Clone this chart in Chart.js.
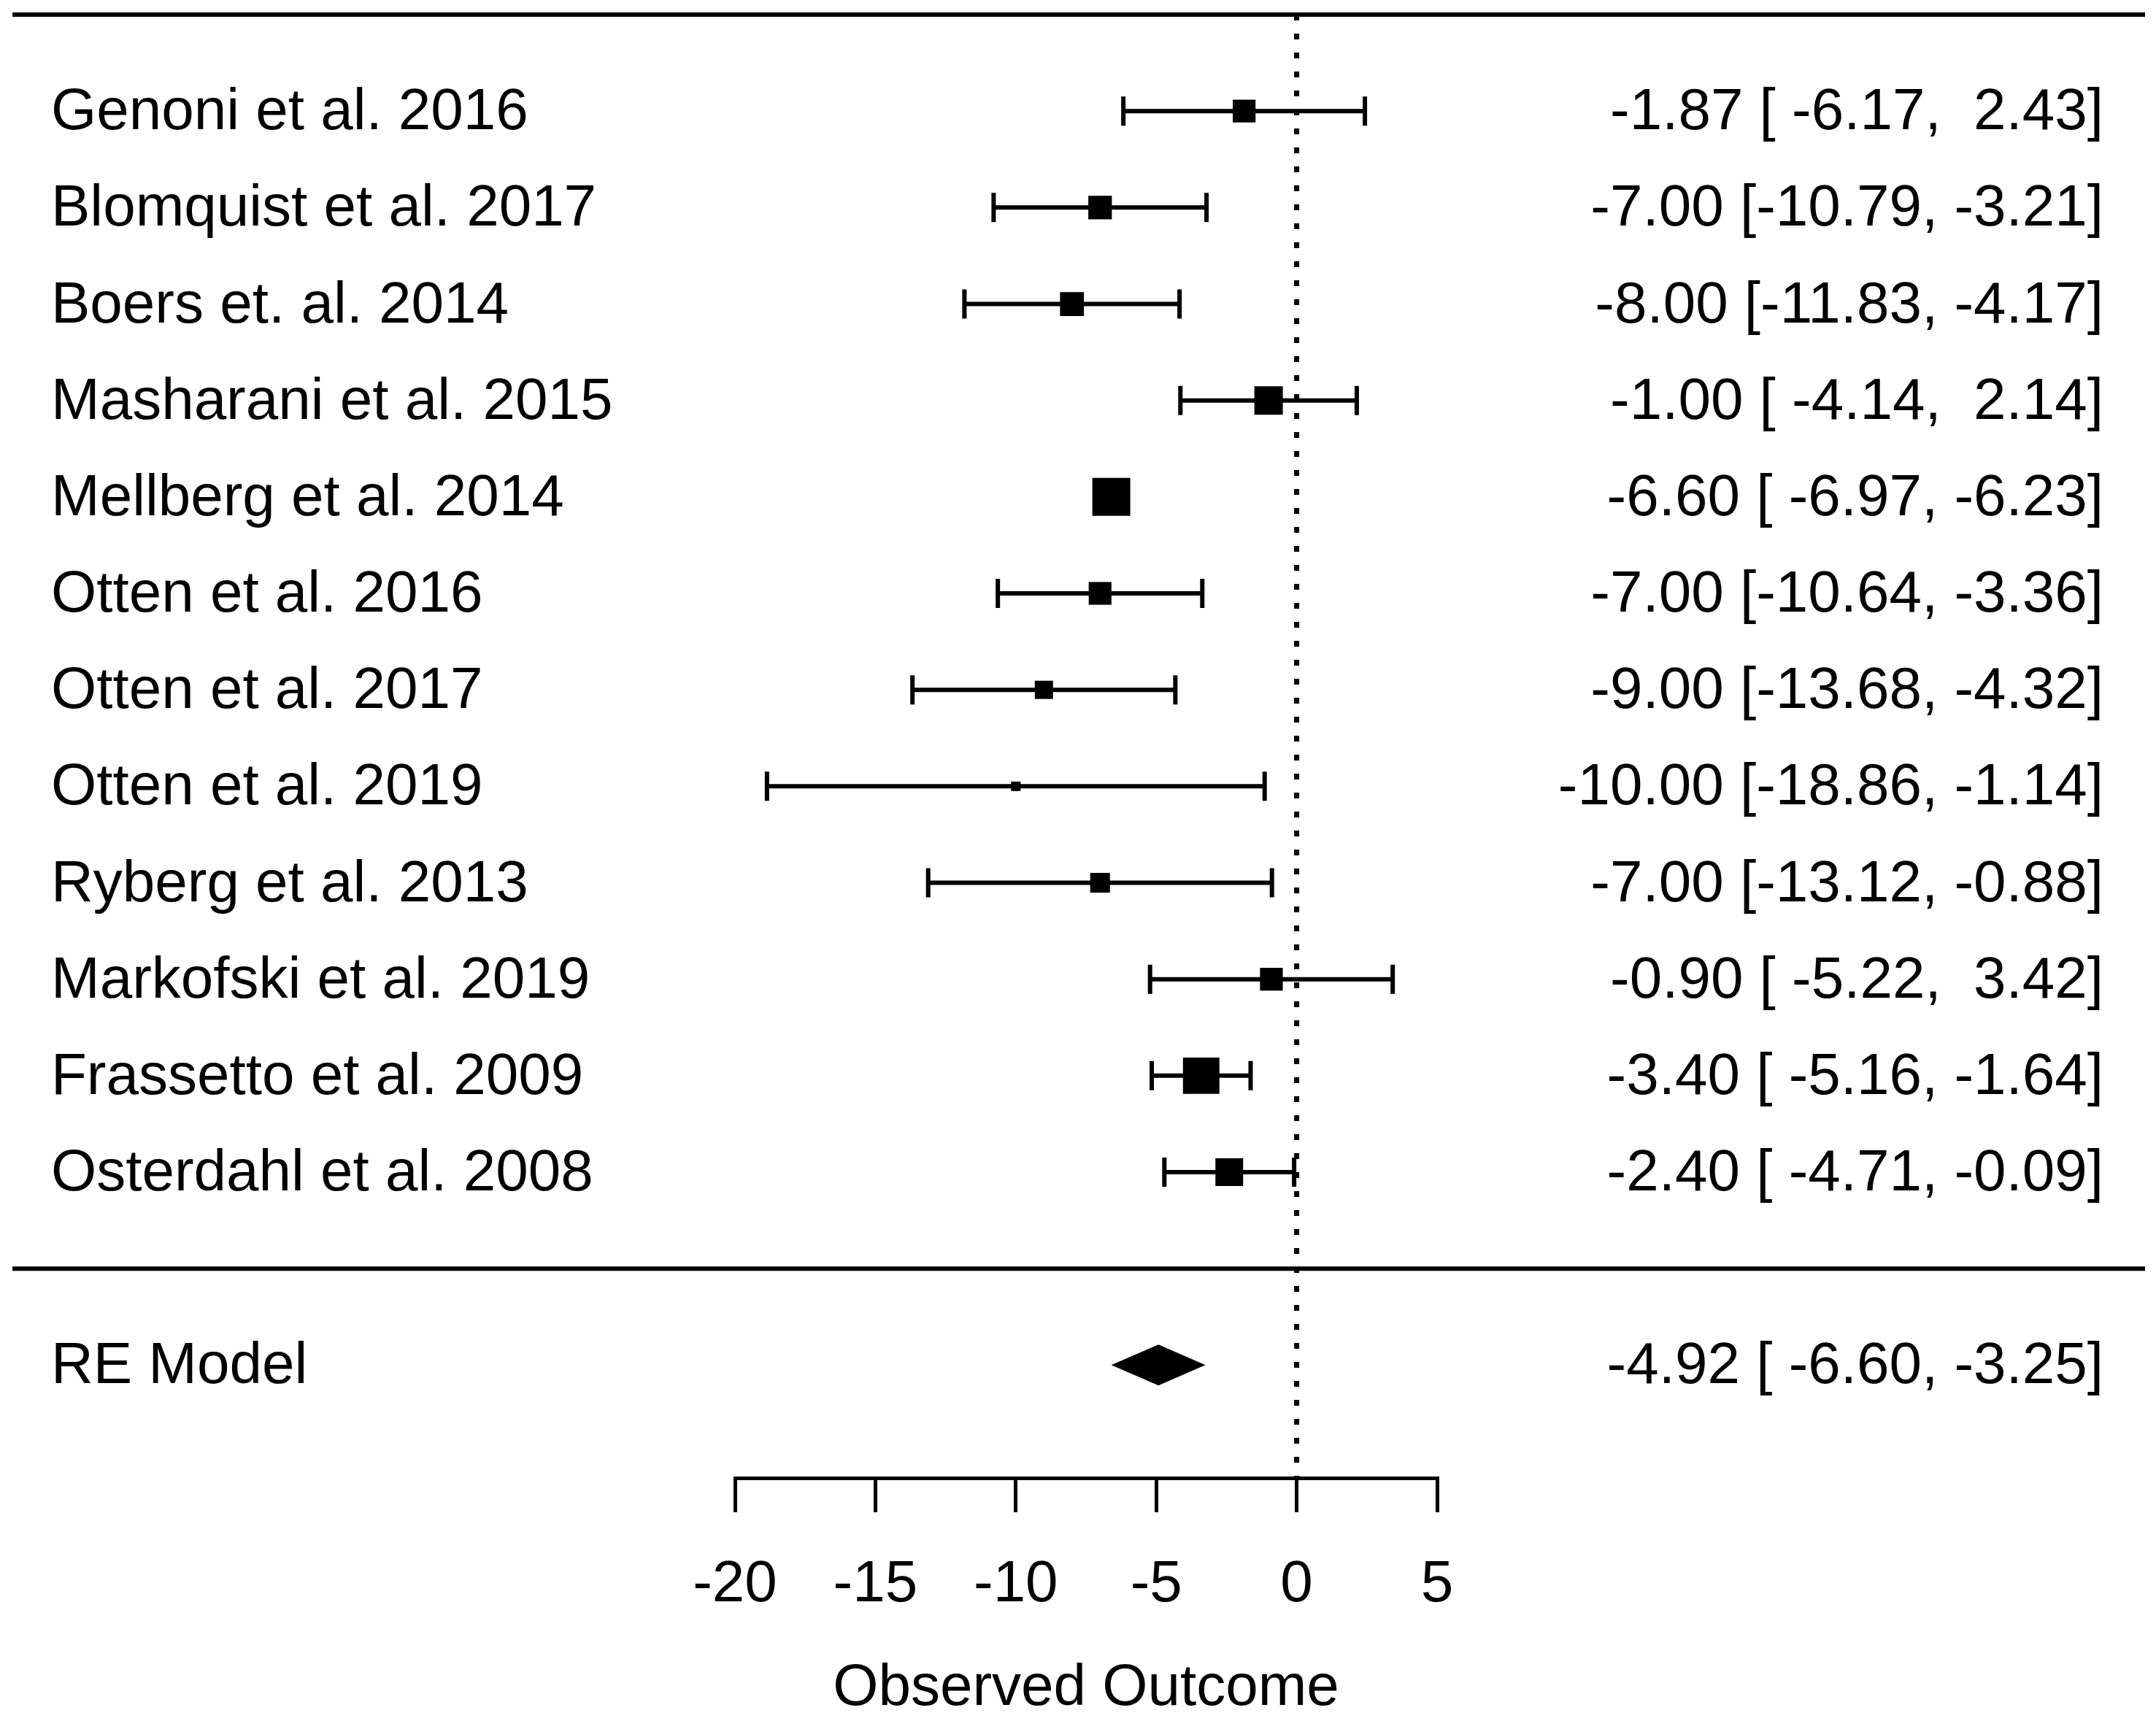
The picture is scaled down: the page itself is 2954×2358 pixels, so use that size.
<!DOCTYPE html>
<html>
<head>
<meta charset="utf-8">
<script src="https://cdn.jsdelivr.net/npm/chart.js@4.4.1/dist/chart.umd.min.js"></script>
<style>
  html, body { margin: 0; padding: 0; background: #fff; }
  canvas { display: block; }
</style>
</head>
<body>
<canvas id="forestChart" width="2954" height="2358"></canvas>
<script>
// study data, top row first
var studies = ['Genoni et al. 2016', 'Blomquist et al. 2017', 'Boers et. al. 2014', 'Masharani et al. 2015',
    'Mellberg et al. 2014', 'Otten et al. 2016', 'Otten et al. 2017', 'Otten et al. 2019',
    'Ryberg et al. 2013', 'Markofski et al. 2019', 'Frassetto et al. 2009', 'Osterdahl et al. 2008'];
var estimates = [-1.87, -7.00, -8.00, -1.00, -6.60, -7.00, -9.00, -10.00, -7.00, -0.90, -3.40, -2.40];
var ciLower = [-6.17, -10.79, -11.83, -4.14, -6.97, -10.64, -13.68, -18.86, -13.12, -5.22, -5.16, -4.71];
var ciUpper = [2.43, -3.21, -4.17, 2.14, -6.23, -3.36, -4.32, -1.14, -0.88, 3.42, -1.64, -0.09];
// relative study weight (largest = 1)
var relWeights = [0.60, 0.62, 0.63, 0.75, 1.00, 0.60, 0.48, 0.25, 0.52, 0.60, 0.96, 0.73];

var pooledLabel = 'RE Model';
var pooledEstimate = -4.92;
var pooledLower = -6.60;
var pooledUpper = -3.25;

var xTicks = [-20, -15, -10, -5, 0, 5];
var xTitle = 'Observed Outcome';

var FONT = '"Liberation Sans", Arial, sans-serif';
var FONT_SIZE = 80;
var BOX_MAX = 52;      // side of the largest box, px
var nStudies = studies.length;

function rowOf(i) { return nStudies - i; }

// R style columns: pad each value to the width of its column
function padCol(vals) {
    var s = vals.map(function (v) { return v.toFixed(2); });
    var w = Math.max.apply(null, s.map(function (t) { return t.length; }));
    return s.map(function (t) { return ' '.repeat(w - t.length) + t; });
}
var allEst = padCol(estimates.concat([pooledEstimate]));
var allLo = padCol(ciLower.concat([pooledLower]));
var allHi = padCol(ciUpper.concat([pooledUpper]));
var annotations = allEst.map(function (e, i) {
    return e + ' [' + allLo[i] + ', ' + allHi[i] + ']';
});

var forestPlugin = {
    id: 'forest',
    beforeDatasetsDraw: function (chart) {
        var ctx = chart.ctx;
        var xs = chart.scales.x, ys = chart.scales.y;
        var area = chart.chartArea;
        ctx.save();
        ctx.strokeStyle = '#000';
        ctx.fillStyle = '#000';

        // horizontal rules
        ctx.lineWidth = 6;
        ctx.beginPath();
        ctx.moveTo(17, ys.getPixelForValue(nStudies + 1));
        ctx.lineTo(2939, ys.getPixelForValue(nStudies + 1));
        ctx.moveTo(17, ys.getPixelForValue(0));
        ctx.lineTo(2939, ys.getPixelForValue(0));
        ctx.stroke();

        // reference line at zero
        ctx.lineWidth = 7;
        ctx.setLineDash([8, 18]);
        ctx.beginPath();
        ctx.moveTo(xs.getPixelForValue(0), area.top);
        ctx.lineTo(xs.getPixelForValue(0), area.bottom);
        ctx.stroke();
        ctx.setLineDash([]);

        // confidence intervals with end caps
        ctx.lineWidth = 6;
        for (var i = 0; i < nStudies; i++) {
            var y = ys.getPixelForValue(rowOf(i));
            var x1 = xs.getPixelForValue(ciLower[i]);
            var x2 = xs.getPixelForValue(ciUpper[i]);
            ctx.beginPath();
            ctx.moveTo(x1, y); ctx.lineTo(x2, y);
            ctx.moveTo(x1, y - 20); ctx.lineTo(x1, y + 20);
            ctx.moveTo(x2, y - 20); ctx.lineTo(x2, y + 20);
            ctx.stroke();
        }

        // pooled estimate diamond
        var yp = ys.getPixelForValue(-1);
        ctx.beginPath();
        ctx.moveTo(xs.getPixelForValue(pooledLower), yp);
        ctx.lineTo(xs.getPixelForValue(pooledEstimate), yp - 28);
        ctx.lineTo(xs.getPixelForValue(pooledUpper), yp);
        ctx.lineTo(xs.getPixelForValue(pooledEstimate), yp + 28);
        ctx.closePath();
        ctx.fill();

        // study labels and annotations
        ctx.font = FONT_SIZE + 'px ' + FONT;
        ctx.textBaseline = 'middle';
        for (var j = 0; j <= nStudies; j++) {
            var row = j < nStudies ? rowOf(j) : -1;
            var ty = ys.getPixelForValue(row) + 3;
            ctx.textAlign = 'left';
            ctx.fillText(j < nStudies ? studies[j] : pooledLabel, 70, ty);
            ctx.textAlign = 'right';
            ctx.fillText(annotations[j], 2882, ty);
        }
        ctx.restore();
    }
};

var ctx = document.getElementById('forestChart').getContext('2d');
var chart = new Chart(ctx, {
    type: 'scatter',
    data: {
        datasets: [{
            label: 'Studies',
            data: estimates.map(function (v, i) { return { x: v, y: rowOf(i) }; }),
            pointStyle: 'rect',
            pointRadius: relWeights.map(function (w) { return w * BOX_MAX / 2 / Math.SQRT1_2; }),
            backgroundColor: '#000',
            borderWidth: 0
        }]
    },
    options: {
        responsive: false,
        devicePixelRatio: 1,
        animation: false,
        events: [],
        layout: { autoPadding: false, padding: { left: 1007, right: 985, top: 20, bottom: 0 } },
        plugins: { legend: { display: false }, tooltip: { enabled: false } },
        scales: {
            x: {
                type: 'linear',
                min: -20,
                max: 5,
                afterBuildTicks: function (s) { s.ticks = xTicks.map(function (v) { return { value: v }; }); },
                afterFit: function (s) { s.height = 333; },
                border: { display: true, color: '#000', width: 5 },
                grid: { display: true, drawOnChartArea: false, drawTicks: true, tickLength: 47, color: '#000', lineWidth: 5 },
                ticks: {
                    color: '#000',
                    padding: 52,
                    maxRotation: 0,
                    font: { family: FONT, size: FONT_SIZE, lineHeight: 1.2 }
                },
                title: {
                    display: true,
                    text: xTitle,
                    color: '#000',
                    padding: { top: 0, bottom: -4 },
                    font: { family: FONT, size: FONT_SIZE, lineHeight: 1.2 }
                }
            },
            y: {
                type: 'linear',
                min: -2.17,
                max: nStudies + 1,
                display: false
            }
        }
    },
    plugins: [forestPlugin]
});
</script>
</body>
</html>
